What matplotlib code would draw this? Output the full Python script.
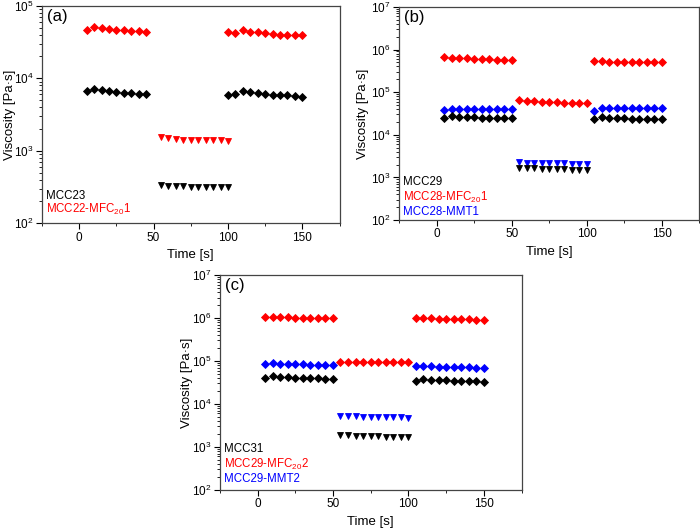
import numpy as np
import matplotlib
matplotlib.use("Agg")
import matplotlib.pyplot as plt
from matplotlib.ticker import LogLocator, NullFormatter, MultipleLocator

plt.rcParams["font.family"] = ["Liberation Sans", "DejaVu Sans"]
plt.rcParams["mathtext.default"] = "regular"

# ---- panel (a) data ----
a_t1 = [5, 10, 15, 20, 25, 30, 35, 40, 45]
a_t2 = [55, 60, 65, 70, 75, 80, 85, 90, 95, 100]
a_t3 = [100, 105, 110, 115, 120, 125, 130, 135, 140, 145, 150]
a_black1 = [6.6e3, 7.1e3, 6.8e3, 6.6e3, 6.4e3, 6.3e3, 6.2e3, 6.1e3, 6.0e3]
a_black2 = [335, 330, 325, 322, 320, 318, 316, 315, 314, 312]
a_black3 = [5.9e3, 6.0e3, 6.7e3, 6.4e3, 6.2e3, 6.0e3, 5.9e3, 5.8e3, 5.8e3, 5.7e3, 5.6e3]
a_red1 = [4.6e4, 5.1e4, 4.9e4, 4.8e4, 4.7e4, 4.6e4, 4.5e4, 4.5e4, 4.4e4]
a_red2 = [1.53e3, 1.48e3, 1.44e3, 1.42e3, 1.41e3, 1.40e3, 1.40e3, 1.39e3, 1.39e3, 1.38e3]
a_red3 = [4.4e4, 4.2e4, 4.6e4, 4.4e4, 4.3e4, 4.2e4, 4.1e4, 4.0e4, 4.0e4, 3.95e4, 3.9e4]

# ---- panel (b) data ----
b_t1 = [5, 10, 15, 20, 25, 30, 35, 40, 45, 50]
b_t2 = [55, 60, 65, 70, 75, 80, 85, 90, 95, 100]
b_t3 = [105, 110, 115, 120, 125, 130, 135, 140, 145, 150]
b_black1 = [2.5e4, 2.7e4, 2.6e4, 2.55e4, 2.55e4, 2.5e4, 2.5e4, 2.5e4, 2.5e4, 2.5e4]
b_black2 = [1.66e3, 1.64e3, 1.62e3, 1.6e3, 1.58e3, 1.56e3, 1.55e3, 1.53e3, 1.52e3, 1.5e3]
b_black3 = [2.36e4, 2.6e4, 2.5e4, 2.45e4, 2.45e4, 2.4e4, 2.4e4, 2.4e4, 2.4e4, 2.4e4]
b_red1 = [6.5e5, 6.4e5, 6.3e5, 6.2e5, 6.1e5, 6.0e5, 5.9e5, 5.8e5, 5.8e5, 5.7e5]
b_red2 = [6.4e4, 6.3e4, 6.2e4, 6.0e4, 5.9e4, 5.8e4, 5.7e4, 5.6e4, 5.6e4, 5.5e4]
b_red3 = [5.3e5, 5.3e5, 5.2e5, 5.2e5, 5.1e5, 5.1e5, 5.1e5, 5.0e5, 5.0e5, 5.0e5]
b_blue1 = [3.85e4, 4.1e4, 4.1e4, 4.05e4, 4.05e4, 4.0e4, 4.0e4, 4.0e4, 4.0e4, 4.0e4]
b_blue2 = [2.25e3, 2.22e3, 2.2e3, 2.18e3, 2.16e3, 2.15e3, 2.13e3, 2.12e3, 2.11e3, 2.1e3]
b_blue3 = [3.7e4, 4.35e4, 4.3e4, 4.25e4, 4.2e4, 4.2e4, 4.2e4, 4.2e4, 4.2e4, 4.2e4]

# ---- panel (c) data ----
c_t1 = b_t1
c_t2 = b_t2
c_t3 = b_t3
c_black1 = [4.1e4, 4.5e4, 4.3e4, 4.2e4, 4.1e4, 4.0e4, 4.0e4, 3.95e4, 3.9e4, 3.9e4]
c_black2 = [1.9e3, 1.85e3, 1.82e3, 1.8e3, 1.78e3, 1.76e3, 1.74e3, 1.72e3, 1.71e3, 1.7e3]
c_black3 = [3.5e4, 3.8e4, 3.7e4, 3.6e4, 3.55e4, 3.5e4, 3.45e4, 3.4e4, 3.35e4, 3.3e4]
c_red1 = [1.07e6, 1.06e6, 1.04e6, 1.03e6, 1.02e6, 1.01e6, 1.0e6, 0.99e6, 0.98e6, 0.98e6]
c_red2 = [9.5e4, 9.5e4, 9.4e4, 9.4e4, 9.4e4, 9.3e4, 9.3e4, 9.4e4, 9.4e4, 9.5e4]
c_red3 = [1.0e6, 0.99e6, 0.98e6, 0.97e6, 0.96e6, 0.95e6, 0.94e6, 0.93e6, 0.92e6, 0.91e6]
c_blue1 = [8.5e4, 9.0e4, 8.7e4, 8.5e4, 8.4e4, 8.3e4, 8.2e4, 8.1e4, 8.0e4, 7.9e4]
c_blue2 = [5.35e3, 5.25e3, 5.15e3, 5.1e3, 5.05e3, 5.0e3, 4.95e3, 4.9e3, 4.85e3, 4.8e3]
c_blue3 = [7.65e4, 7.7e4, 7.5e4, 7.4e4, 7.3e4, 7.2e4, 7.15e4, 7.1e4, 7.05e4, 7.0e4]

RED = "#ff0000"
BLUE = "#0000ff"
BLACK = "black"

fig = plt.figure(figsize=(7.0, 5.29), dpi=100)
ax_a = fig.add_axes([0.060, 0.578, 0.425, 0.411])
ax_b = fig.add_axes([0.570, 0.584, 0.429, 0.403])
ax_c = fig.add_axes([0.314, 0.074, 0.431, 0.406])


def style(ax, ymin, ymax, tag, ylab_x):
    ax.set_yscale("log")
    ax.set_xlim(-25, 175)
    ax.set_ylim(ymin, ymax)
    ax.xaxis.set_major_locator(MultipleLocator(50))
    ax.xaxis.set_minor_locator(MultipleLocator(25))
    ax.yaxis.set_major_locator(LogLocator(base=10, numticks=10))
    ax.yaxis.set_minor_locator(LogLocator(base=10, subs=np.arange(2, 10), numticks=10))
    ax.yaxis.set_minor_formatter(NullFormatter())
    ax.tick_params(which="major", direction="out", length=4, width=0.8,
                   labelsize=8.5, pad=2, top=False, right=False)
    ax.tick_params(which="minor", direction="out", length=2, width=0.6,
                   top=False, right=False)
    for sp in ax.spines.values():
        sp.set_color("#444444")
        sp.set_linewidth(0.9)
    ax.set_xlabel("Time [s]", fontsize=9.5, labelpad=4)
    ax.set_ylabel("Viscosity [Pa·s]", fontsize=9.5)
    ax.yaxis.set_label_coords(ylab_x, 0.5)
    ax.text(0.018, 0.985, tag, transform=ax.transAxes, fontsize=12,
            ha="left", va="top")


def pts(ax, t, y, color, marker):
    ms = 3.8 if marker == "D" else 4.6
    ax.plot(t, y, linestyle="none", marker=marker, color=color,
            markersize=ms, markeredgewidth=0.6)


def labels(ax, entries, y0, step):
    for i, (txt, col) in enumerate(entries):
        ax.text(0.013, y0 - i * step, txt, color=col, transform=ax.transAxes,
                fontsize=8.3, va="center")


# panel (a)
style(ax_a, 1e2, 1e5, "(a)", -0.088)
pts(ax_a, a_t1, a_red1, RED, "D")
pts(ax_a, a_t1, a_black1, BLACK, "D")
pts(ax_a, a_t2, a_red2, RED, "v")
pts(ax_a, a_t2, a_black2, BLACK, "v")
pts(ax_a, a_t3, a_red3, RED, "D")
pts(ax_a, a_t3, a_black3, BLACK, "D")
labels(ax_a, [("MCC23", BLACK), ("MCC22-MFC$_{20}$1", RED)], 0.125, 0.062)

# panel (b)
style(ax_b, 1e2, 1e7, "(b)", -0.1)
pts(ax_b, b_t1, b_red1, RED, "D")
pts(ax_b, b_t1, b_blue1, BLUE, "D")
pts(ax_b, b_t1, b_black1, BLACK, "D")
pts(ax_b, b_t2, b_red2, RED, "D")
pts(ax_b, b_t2, b_blue2, BLUE, "v")
pts(ax_b, b_t2, b_black2, BLACK, "v")
pts(ax_b, b_t3, b_red3, RED, "D")
pts(ax_b, b_t3, b_blue3, BLUE, "D")
pts(ax_b, b_t3, b_black3, BLACK, "D")
labels(ax_b, [("MCC29", BLACK), ("MCC28-MFC$_{20}$1", RED), ("MCC28-MMT1", BLUE)],
       0.178, 0.07)

# panel (c)
style(ax_c, 1e2, 1e7, "(c)", -0.09)
pts(ax_c, c_t1, c_red1, RED, "D")
pts(ax_c, c_t1, c_blue1, BLUE, "D")
pts(ax_c, c_t1, c_black1, BLACK, "D")
pts(ax_c, c_t2, c_red2, RED, "D")
pts(ax_c, c_t2, c_blue2, BLUE, "v")
pts(ax_c, c_t2, c_black2, BLACK, "v")
pts(ax_c, c_t3, c_red3, RED, "D")
pts(ax_c, c_t3, c_blue3, BLUE, "D")
pts(ax_c, c_t3, c_black3, BLACK, "D")
labels(ax_c, [("MCC31", BLACK), ("MCC29-MFC$_{20}$2", RED), ("MCC29-MMT2", BLUE)],
       0.19, 0.07)

fig.savefig("out.png", dpi=100)
